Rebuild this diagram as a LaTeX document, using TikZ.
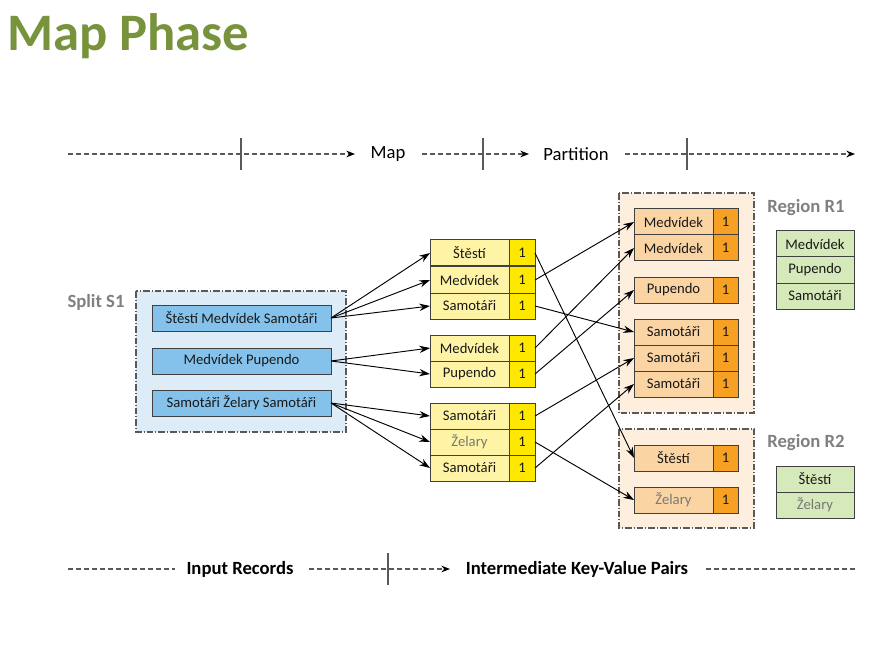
\documentclass[tikz,border=0pt]{standalone}
\usepackage{fontspec}
\setmainfont{Carlito}
\usetikzlibrary{positioning,arrows.meta}

\definecolor{titlegreen}{RGB}{119,147,60}
\definecolor{labelgray}{RGB}{128,128,128}
\definecolor{zgray}{RGB}{120,120,120}
\definecolor{axisgray}{RGB}{89,89,89}
\definecolor{boxline}{RGB}{64,64,64}
\definecolor{splitbg}{RGB}{222,236,248}
\definecolor{splitblue}{RGB}{133,194,235}
\definecolor{ylight}{RGB}{255,244,165}
\definecolor{ydark}{RGB}{255,232,0}
\definecolor{regionbg}{RGB}{253,238,222}
\definecolor{olight}{RGB}{251,212,164}
\definecolor{odark}{RGB}{246,160,36}
\definecolor{glight}{RGB}{214,233,186}

\tikzset{
  box/.style={draw=boxline, line width=0.75pt, inner sep=0pt, outer sep=0pt,
    minimum height=19.5pt, font=\fontsize{11}{13}\selectfont, text=black!90},
  splitbox/.style={box, fill=splitblue, minimum width=134.25pt},
  ykey/.style={box, fill=ylight, minimum width=59.25pt},
  yval/.style={box, fill=ydark, minimum width=19.5pt},
  okey/.style={box, fill=olight, minimum width=59.25pt},
  oval/.style={box, fill=odark, minimum width=19pt},
  gbox/.style={box, fill=glight, minimum width=58.5pt},
  regionline/.style={draw=axisgray, line width=0.9pt,
    dash pattern=on 5pt off 1.5pt on 0.75pt off 1.5pt},
  axisline/.style={draw=axisgray, line width=0.9pt, dash pattern=on 3.75pt off 2.25pt},
  axtip/.style={-{Stealth[length=6.5pt,width=5pt,black]}},
  tickline/.style={draw=axisgray, line width=0.9pt},
  flow/.style={-{Stealth[length=8pt,width=5.5pt]}, line width=0.7pt},
  regionlabel/.style={font=\fontsize{14}{16}\selectfont\bfseries, text=labelgray},
  axislabel/.style={font=\fontsize{14}{16}\selectfont, text=black},
}

\begin{document}
\begin{tikzpicture}[x=0.75pt,y=-0.75pt]
  \useasboundingbox (0,0) rectangle (887,648);

  % title
  \node[anchor=base west, inner sep=0pt, font=\fontsize{39.5}{42}\selectfont\bfseries,
        text=titlegreen] (title) at (7,51) {Map Phase};

  % top axis
  \coordinate (t0) at (68,154);
  \coordinate (t1) at (355,154);
  \node[axislabel] (tmap) at (388,154) {Map};
  \coordinate (t2) at (422,154);
  \coordinate (t3) at (529,154);
  \node[axislabel] (tpart) at (576,154) {Partition};
  \coordinate (t4) at (625,154);
  \coordinate (t5) at (855,154);
  \draw[axisline,axtip] (t0) -- (t1);
  \draw[axisline,axtip] (t2) -- (t3);
  \draw[axisline,axtip] (t4) -- (t5);
  \draw[tickline] (241,138) -- (241,170);
  \draw[tickline] (483,138) -- (483,170);
  \draw[tickline] (687,138) -- (687,170);

  % regions
  \draw[regionline, fill=splitbg] (136,291) rectangle (346,432);
  \draw[regionline, fill=regionbg] (619,193) rectangle (754,413);
  \draw[regionline, fill=regionbg] (619,429) rectangle (754,528);

  \node[regionlabel] (lsplit) at (96,302) {Split S1};
  \node[regionlabel] (lr1) at (806,208) {Region R1};
  \node[regionlabel] (lr2) at (806,443) {Region R2};

  % input records
  \node[splitbox, anchor=west] (sp1) at (152,318) {Štěstí Medvídek Samotáři};
  \node[splitbox, anchor=west] (sp2) at (152,361) {Medvídek Pupendo};
  \node[splitbox, anchor=west] (sp3) at (152,403) {Samotáři Želary Samotáři};

  % map output
  \foreach \n/\y/\w in {1/253/Štěstí, 2/280/Medvídek, 3/306/Samotáři,
                        4/348/Medvídek, 5/374/Pupendo,
                        6/416/Samotáři, 7/442/{\textcolor{zgray}{Želary}}, 8/468/Samotáři}
    {\node[ykey, anchor=west] (yk\n) at (430,\y) {\w};
     \node[yval, right=0pt of yk\n] (yv\n) {1};}

  % partitioned output
  \foreach \n/\y/\w in {1/222/Medvídek, 2/248/Medvídek, 3/290/Pupendo,
                        4/332/Samotáři, 5/358/Samotáři, 6/384/Samotáři,
                        7/458/Štěstí, 8/500/{\textcolor{zgray}{Želary}}}
    {\node[okey, anchor=west] (ok\n) at (634,\y) {\w};
     \node[oval, right=0pt of ok\n] (ov\n) {1};}

  % keys per region
  \foreach \n/\y/\w in {1/244/Medvídek, 2/270/Pupendo, 3/296/Samotáři,
                        4/479/Štěstí, 5/505/{\textcolor{zgray}{Želary}}}
    {\node[gbox, anchor=west] (gr\n) at (776,\y) {\w};}

  % map arrows
  \foreach \k in {1,2,3} {\draw[flow] (sp1.east) -- (yk\k.west);}
  \foreach \k in {4,5} {\draw[flow] (sp2.east) -- (yk\k.west);}
  \foreach \k in {6,7,8} {\draw[flow] (sp3.east) -- (yk\k.west);}

  % partition arrows
  \foreach \a/\b in {1/7, 2/1, 3/4, 4/2, 5/3, 6/5, 7/8, 8/6}
    {\draw[flow] (yv\a.east) -- (ok\b.west);}

  % bottom axis
  \coordinate (b0) at (68,569);
  \coordinate (b1) at (175,569);
  \node[axislabel, font=\fontsize{14}{16}\selectfont\bfseries] (binput) at (240,569) {Input Records};
  \coordinate (b2) at (309,569);
  \coordinate (b3) at (450,569);
  \node[axislabel, font=\fontsize{14}{16}\selectfont\bfseries] (binter) at (577,569) {Intermediate Key-Value Pairs};
  \coordinate (b4) at (706,569);
  \coordinate (b5) at (855,569);
  \draw[axisline] (b0) -- (b1);
  \draw[axisline,axtip] (b2) -- (b3);
  \draw[axisline] (b4) -- (b5);
  \draw[tickline] (388,553) -- (388,585);
\end{tikzpicture}
\end{document}
